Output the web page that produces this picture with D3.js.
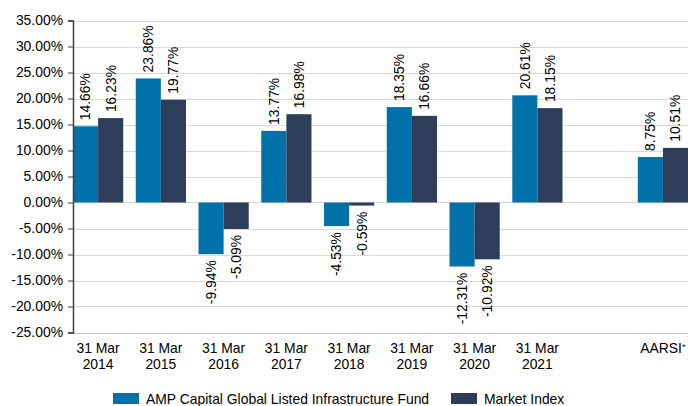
<!DOCTYPE html>
<html>
<head>
<meta charset="utf-8">
<script src="https://cdn.jsdelivr.net/npm/d3@7"></script>
<style>
    body { margin: 0; background: #fff; }
    text { font-family: "Liberation Sans", Arial, sans-serif; fill: #000; }
</style>
</head>
<body>
<div id="chart"></div>
<script>
// data
var categories = ["31 Mar 2014", "31 Mar 2015", "31 Mar 2016", "31 Mar 2017", "31 Mar 2018",
    "31 Mar 2019", "31 Mar 2020", "31 Mar 2021", "", "AARSI*"]
var fundValues = [14.66, 23.86, -9.94, 13.77, -4.53, 18.35, -12.31, 20.61, null, 8.75]
var indexValues = [16.23, 19.77, -5.09, 16.98, -0.59, 16.66, -10.92, 18.15, null, 10.51]
var seriesNames = ["AMP Capital Global Listed Infrastructure Fund", "Market Index"]
var yTicks = [35, 30, 25, 20, 15, 10, 5, 0, -5, -10, -15, -20, -25]

const w = 698
const h = 406
const fs = "13.9px"
var colors = ["#0071a9", "#2d3d5a"]

var svg = d3.select("#chart")
    .append("svg")
    .attr("width", w)
    .attr("height", h)

var x0 = d3.scaleBand()
    .domain(categories.map((c, i) => i))
    .range([73, 688])
    .paddingInner(0.2)
    .paddingOuter(0)

var x1 = d3.scaleBand()
    .domain([0, 1])
    .range([0, x0.bandwidth()])

var y = d3.scaleLinear()
    .domain([-25, 35])
    .range([332.5, 20.5])

// gridlines
svg.append("g")
    .selectAll("line")
    .data(yTicks)
    .enter()
    .append("line")
    .attr("x1", 73)
    .attr("x2", 688)
    .attr("y1", d => Math.round(y(d)) + 0.5)
    .attr("y2", d => Math.round(y(d)) + 0.5)
    .attr("stroke", d => d === -25 ? "#bfbfbf" : "#d9d9d9")
    .attr("stroke-width", 1)

// bars
var rows = categories.map((c, i) => ({ i: i, vals: [fundValues[i], indexValues[i]] }))

var groups = svg.append("g")
    .selectAll("g")
    .data(rows)
    .enter()
    .append("g")
    .attr("transform", d => "translate(" + x0(d.i) + ",0)")

var bars = groups.selectAll("g")
    .data(d => d.vals.map((v, k) => ({ k: k, v: v })).filter(e => e.v !== null))
    .enter()
    .append("g")

bars.append("rect")
    .attr("x", d => x1(d.k))
    .attr("width", x1.bandwidth())
    .attr("y", d => y(Math.max(0, d.v)))
    .attr("height", d => Math.abs(y(d.v) - y(0)))
    .attr("fill", d => colors[d.k])

// value labels, rotated
bars.append("text")
    .attr("transform", d => {
        var cx = x1(d.k) + x1.bandwidth() / 2
        var ty = d.v >= 0 ? y(d.v) - 6 : y(d.v) + 6
        return "translate(" + cx + "," + ty + ") rotate(-90)"
    })
    .attr("dy", "0.35em")
    .attr("text-anchor", d => d.v >= 0 ? "start" : "end")
    .style("font-size", fs)
    .text(d => d.v.toFixed(2) + "%")

// y axis
var yAxis = d3.axisLeft(y)
    .tickValues(yTicks)
    .tickSize(5)
    .tickPadding(5)
    .tickFormat(d => d.toFixed(2) + "%")

var yg = svg.append("g")
    .attr("transform", "translate(73,0)")
    .call(yAxis)

yg.select(".domain").attr("stroke", "#404040").attr("stroke-width", 1.5)
yg.selectAll(".tick line").attr("stroke", "#404040")
yg.selectAll(".tick text")
    .style("font-size", fs)
    .style("font-family", "'Liberation Sans', Arial, sans-serif")
    .attr("fill", "#000")

// x labels on two lines
var xl = svg.append("g")
    .selectAll("text")
    .data(categories.map((c, i) => ({ i: i, c: c })))
    .enter()
    .append("text")
    .attr("x", d => x0(d.i) + x0.bandwidth() / 2)
    .attr("y", 353)
    .attr("text-anchor", "middle")
    .style("font-size", fs)

xl.each(function (d) {
    var t = d3.select(this)
    var cx = x0(d.i) + x0.bandwidth() / 2
    if (d.c.indexOf("31 Mar") === 0) {
        t.append("tspan").attr("x", cx).text("31 Mar")
        t.append("tspan").attr("x", cx).attr("dy", 15.5).text(d.c.slice(7))
    } else if (d.c.slice(-1) === "*") {
        t.append("tspan").text(d.c.slice(0, -1))
        t.append("tspan").attr("dy", -3).style("font-size", "9px").text("*")
    } else {
        t.text(d.c)
    }
})

// legend
var legendX = [113, 451]
var legend = svg.append("g")
    .selectAll("g")
    .data(seriesNames)
    .enter()
    .append("g")
    .attr("transform", (d, i) => "translate(" + legendX[i] + ",393)")

legend.append("rect")
    .attr("width", 26)
    .attr("height", 11)
    .attr("fill", (d, i) => colors[i])

legend.append("text")
    .attr("x", 33)
    .attr("y", 10.5)
    .style("font-size", fs)
    .text(d => d)
</script>
</body>
</html>
